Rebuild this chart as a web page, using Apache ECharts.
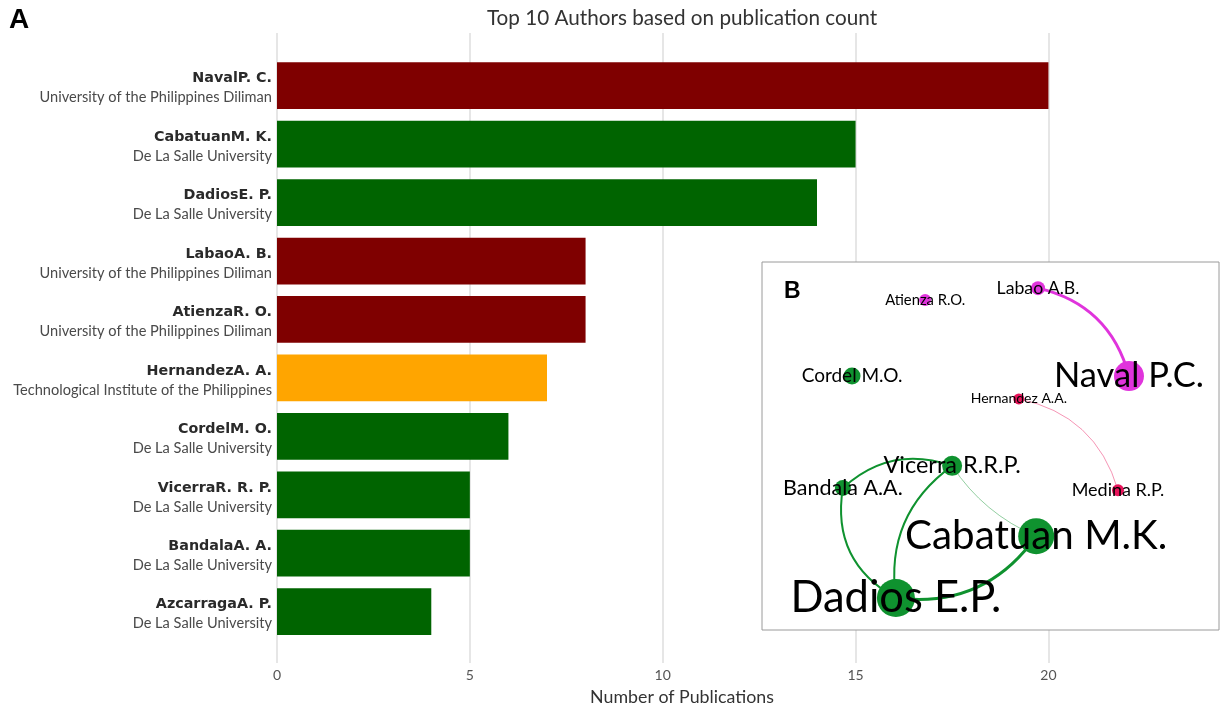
<!DOCTYPE html>
<html>
<head>
<meta charset="utf-8">
<script src="https://cdn.jsdelivr.net/npm/echarts@6/dist/echarts.min.js"></script>
<style>
  html, body { margin: 0; padding: 0; background: #fff; }
  #chart { width: 1223px; height: 720px; }
</style>
</head>
<body>
<div id="chart"></div>
<script>
// --- Panel A: top authors by publication count ---
const authors = ['NavalP. C.', 'CabatuanM. K.', 'DadiosE. P.', 'LabaoA. B.', 'AtienzaR. O.',
  'HernandezA. A.', 'CordelM. O.', 'VicerraR. R. P.', 'BandalaA. A.', 'AzcarragaA. P.'];
const affiliations = ['University of the Philippines Diliman', 'De La Salle University', 'De La Salle University',
  'University of the Philippines Diliman', 'University of the Philippines Diliman',
  'Technological Institute of the Philippines', 'De La Salle University', 'De La Salle University',
  'De La Salle University', 'De La Salle University'];
const pubCounts = [20, 15, 14, 8, 8, 7, 6, 5, 5, 4];
const xTicks = [0, 5, 10, 15, 20];
const affiliationColors = {
  'University of the Philippines Diliman': '#7f0000',
  'De La Salle University': '#006400',
  'Technological Institute of the Philippines': '#ffa500'
};

// --- Panel B: co-authorship network (layout coordinates in 0..1) ---
const netNames = ['Atienza R.O.', 'Labao A.B.', 'Naval P.C.', 'Cordel M.O.', 'Hernandez A.A.',
  'Vicerra R.R.P.', 'Bandala A.A.', 'Medina R.P.', 'Cabatuan M.K.', 'Dadios E.P.'];
const netX = [0.357, 0.604, 0.803, 0.197, 0.562, 0.416, 0.177, 0.779, 0.600, 0.293];
const netY = [0.897, 0.929, 0.690, 0.690, 0.628, 0.446, 0.386, 0.380, 0.255, 0.087];
const netGroup = ['upd', 'upd', 'upd', 'dlsu', 'tip', 'dlsu', 'dlsu', 'tip', 'dlsu', 'dlsu'];
const linkSource = ['Labao A.B.', 'Hernandez A.A.', 'Bandala A.A.', 'Bandala A.A.', 'Vicerra R.R.P.', 'Vicerra R.R.P.', 'Dadios E.P.'];
const linkTarget = ['Naval P.C.', 'Medina R.P.', 'Vicerra R.R.P.', 'Dadios E.P.', 'Dadios E.P.', 'Cabatuan M.K.', 'Cabatuan M.K.'];
const linkWeight = [3, 1, 2, 2, 2, 1, 3];

const groupColors = { upd: '#e034dc', dlsu: '#0f922f', tip: '#e8135a' };
const nodeSize = [12, 14, 30, 17, 11, 20, 16, 12, 36, 38];
const labelSize = [14.8, 17.7, 34.5, 19, 14, 23.5, 21.5, 18, 40.3, 43.5];
const linkCurve = [0.3, 0.3, 0.3, -0.35, -0.3, -0.15, -0.3];

const chart = echarts.init(document.getElementById('chart'));

const nodes = netNames.map((n, i) => ({
  name: n,
  value: [netX[i], netY[i]],
  symbolSize: nodeSize[i],
  itemStyle: { color: groupColors[netGroup[i]] },
  label: { fontSize: labelSize[i] }
}));
const links = linkSource.map((s, i) => {
  const g = netGroup[netNames.indexOf(s)];
  const light = linkWeight[i] === 1;
  return {
    source: s, target: linkTarget[i],
    lineStyle: {
      color: groupColors[g], width: linkWeight[i],
      opacity: light ? 0.45 : 1, curveness: linkCurve[i]
    }
  };
});

const option = {
  animation: false,
  backgroundColor: '#ffffff',
  textStyle: { fontFamily: 'Lato' },
  grid: [
    { left: 277, width: 810, top: 33, height: 630 },   // grid lines + x axis
    { left: 277, width: 810, top: 56.5, height: 584.4 }, // bars
    { left: 762, width: 457, top: 262, height: 368 }    // network inset
  ],
  xAxis: [
    {
      gridIndex: 0, type: 'value', min: 0, max: 21, interval: 5,
      axisLine: { show: false }, axisTick: { show: false },
      axisLabel: {
        color: '#555', fontSize: 14, margin: 5, showMaxLabel: false,
        formatter: v => xTicks.includes(v) ? String(v) : ''
      },
      splitLine: { show: true, showMaxLine: false, lineStyle: { color: '#dedede', width: 1.5 } },
      name: 'Number of Publications', nameLocation: 'middle', nameGap: 25,
      nameTextStyle: { color: '#333', fontSize: 17.8 }
    },
    { gridIndex: 1, type: 'value', min: 0, max: 21, show: false },
    { gridIndex: 2, type: 'value', min: 0, max: 1, show: false }
  ],
  yAxis: [
    { gridIndex: 0, type: 'value', show: false },
    {
      gridIndex: 1, type: 'category', inverse: true, data: authors,
      axisLine: { show: false }, axisTick: { show: false },
      axisLabel: {
        margin: 5, align: 'right', padding: [5, 0, 0, 0],
        formatter: (v, i) => '{n|' + v + '}\n{i|' + affiliations[i] + '}',
        rich: {
          n: { fontFamily: 'DejaVu Sans', fontWeight: 'bold', fontSize: 14.3, color: '#2a2a2a', lineHeight: 19, align: 'right' },
          i: { fontFamily: 'Lato', fontSize: 14.6, color: '#4a4a4a', lineHeight: 19, align: 'right' }
        }
      }
    },
    { gridIndex: 2, type: 'value', min: 0, max: 1, show: false }
  ],
  graphic: [
    { type: 'text', left: 9, top: 6, z: 100,
      style: { text: 'A', font: 'bold 28px "Liberation Sans"', fill: '#000' } },
    { type: 'text', x: 682, y: 18, z: 100,
      style: { text: 'Top 10 Authors based on publication count', font: '20.7px Lato', fill: '#333',
        textAlign: 'center', textVerticalAlign: 'middle' } },
    { type: 'rect', z: 50, shape: { x: 762, y: 262, width: 457, height: 368 },
      style: { fill: '#fff', stroke: '#9a9a9a', lineWidth: 1 } },
    { type: 'text', left: 784, top: 280, z: 100,
      style: { text: 'B', font: 'bold 23px "Liberation Sans"', fill: '#000' } }
  ],
  series: [
    {
      type: 'bar', xAxisIndex: 1, yAxisIndex: 1, barCategoryGap: '20%',
      data: pubCounts.map((v, i) => ({ value: v, itemStyle: { color: affiliationColors[affiliations[i]] } }))
    },
    {
      type: 'graph', coordinateSystem: 'cartesian2d', xAxisIndex: 2, yAxisIndex: 2,
      z: 60, symbol: 'circle',
      label: { show: true, position: 'inside', color: '#000', fontFamily: 'Lato' },
      lineStyle: { opacity: 1 },
      emphasis: { disabled: true },
      data: nodes, links: links
    }
  ]
};
chart.setOption(option);
</script>
</body>
</html>
